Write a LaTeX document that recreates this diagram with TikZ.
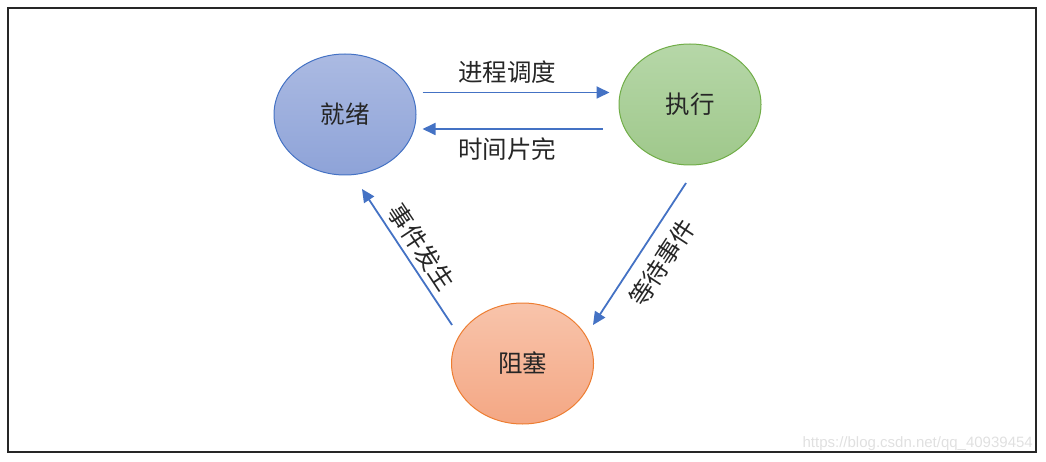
\documentclass[tikz,border=0pt]{standalone}
\usepackage{fontspec}
\setmainfont{Liberation Sans}
\newfontfamily\cjk{Noto Sans CJK SC}
\usepackage{tikz}
\usetikzlibrary{arrows.meta,shapes.geometric}
\definecolor{blueline}{HTML}{4472C4}
\definecolor{greenline}{HTML}{70AD47}
\definecolor{orangeline}{HTML}{ED7D31}
\definecolor{readytop}{HTML}{ABBAE2}
\definecolor{readybot}{HTML}{8EA3D8}
\definecolor{runtop}{HTML}{B6D7A8}
\definecolor{runbot}{HTML}{9FC88B}
\definecolor{blocktop}{HTML}{F8C4AB}
\definecolor{blockbot}{HTML}{F4A784}
\definecolor{framegray}{HTML}{262626}
\tikzset{state/.style={ellipse,draw,line width=1pt,minimum width=142pt,minimum height=121pt,inner sep=0pt,font=\cjk\fontsize{24.5}{28}\selectfont,text=black!85},
flow/.style={-{Triangle[length=13pt,width=12pt]},line width=1.8pt,blueline},
lbl/.style={font=\cjk\fontsize{24.5}{28}\selectfont,text=black!85}}

\begin{document}
\begin{tikzpicture}[x=1pt,y=1pt]
\useasboundingbox (0,0) rectangle (1046,461);
\draw[line width=2pt,framegray] (7.5,9) rectangle (1036,452.5);
\node[state,draw=blueline,top color=readytop,bottom color=readybot] (jiuxu) at (345,346.5) {就绪};
\node[state,draw=greenline,top color=runtop,bottom color=runbot] (zhixing) at (690,356.5) {执行};
\node[state,draw=orangeline,top color=blocktop,bottom color=blockbot] (zusai) at (522.5,97.5) {阻塞};
\draw[flow,shorten <=6pt,shorten >=9pt] ([yshift=22pt]jiuxu.east) -- ([yshift=12pt]zhixing.west)
  node[lbl,midway,above=4.5pt,xshift=-10.5pt] {进程调度};
\draw[flow,shorten <=16pt,shorten >=6pt] ([yshift=-24.5pt]zhixing.west) -- ([yshift=-14.5pt]jiuxu.east)
  node[lbl,midway,below=4pt,xshift=-10.5pt] {时间片完};
\draw[flow] ([shift={(-4,-78.5)}]zhixing.center) -- ([shift={(70.5,38.5)}]zusai.center)
  node[lbl,pos=.47,sloped,below=8pt] {等待事件};
\draw[flow] ([shift={(-70.5,38.5)}]zusai.center) -- ([shift={(17,-74.5)}]jiuxu.center)
  node[lbl,midway,sloped,above=2pt] {事件发生};
\node[anchor=east,inner sep=0pt,text=black!12,font=\fontsize{15}{18}\selectfont] (mark) at (1033,17) {https://blog.csdn.net/qq\_40939454};
\end{tikzpicture}
\end{document}
